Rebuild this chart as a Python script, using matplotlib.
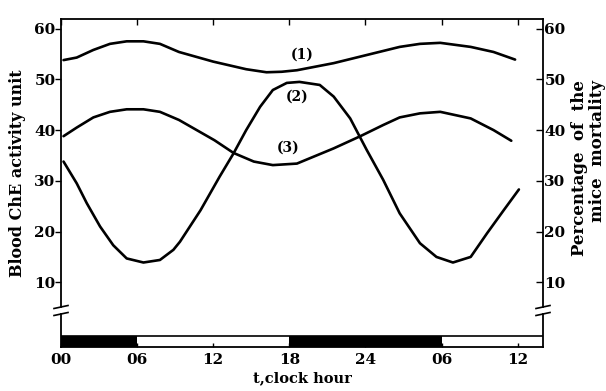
import matplotlib
matplotlib.use("Agg")
import matplotlib.pyplot as plt
from matplotlib.lines import Line2D

plt.rcParams["font.family"] = ["DejaVu Serif"]
plt.rcParams["font.weight"] = "bold"
plt.rcParams["axes.labelweight"] = "bold"

# hours since 00 (two days shown)
HOURS_1 = [0.2, 1.24, 2.55, 3.86, 5.18, 6.5, 7.8, 9.3, 12.0, 14.6, 16.2, 17.4,
           18.6, 21.5, 24.1, 26.7, 28.3, 29.9, 32.3, 34.1, 35.8]
CURVE_1 = [53.8, 54.3, 55.8, 57.0, 57.5, 57.5, 57.0, 55.4, 53.5, 52.0, 51.4, 51.5,
           51.8, 53.2, 54.8, 56.4, 57.0, 57.2, 56.4, 55.4, 53.9]

HOURS_2 = [0.2, 1.24, 2.03, 3.08, 4.12, 5.18, 6.5, 7.8, 8.86, 9.38, 11.0, 12.5,
           13.6, 14.6, 15.7, 16.7, 17.8, 18.8, 20.4, 21.5, 22.8, 24.1, 25.4, 26.7,
           28.3, 29.6, 30.9, 32.3, 33.6, 34.9, 36.1]
CURVE_2 = [33.8, 29.5, 25.6, 21.0, 17.3, 14.7, 13.9, 14.4, 16.4, 18.0, 24.2, 30.8,
           35.4, 40.0, 44.6, 47.9, 49.3, 49.5, 48.9, 46.6, 42.3, 36.1, 30.2, 23.6,
           17.7, 15.0, 13.9, 15.0, 19.7, 24.2, 28.3]

HOURS_3 = [0.2, 1.24, 2.55, 3.86, 5.18, 6.5, 7.8, 9.3, 12.1, 13.6, 15.2, 16.7,
           18.6, 21.5, 23.6, 25.4, 26.7, 28.3, 29.9, 32.3, 34.1, 35.5]
CURVE_3 = [38.8, 40.5, 42.5, 43.6, 44.1, 44.1, 43.6, 42.0, 38.0, 35.5, 33.8, 33.1,
           33.4, 36.4, 38.8, 41.0, 42.5, 43.3, 43.6, 42.3, 40.0, 37.9]

CURVE_LABELS = ["(1)", "(2)", "(3)"]
LABEL_POS = [(19.0, 54.8), (18.6, 46.5), (17.9, 36.5)]

X_TICKS = [0, 6, 12, 18, 24, 30, 36]
X_TICKLABELS = ["00", "06", "12", "18", "24", "06", "12"]
Y_TICKS = [10, 20, 30, 40, 50, 60]
# dark periods of the light/dark bar (start, length) in hours
DARK = [(0, 6), (18, 12)]

W, H = 606, 391
fig = plt.figure(figsize=(W / 100, H / 100), dpi=100)


def frac(left, top, right, bottom):
    return [left / W, 1 - bottom / H, (right - left) / W, (bottom - top) / H]


ax = fig.add_axes(frac(61, 19, 543, 307))
ax.set_xlim(0, 38)
ax.set_ylim(5.13, 61.9)
for hx, cy in ((HOURS_1, CURVE_1), (HOURS_2, CURVE_2), (HOURS_3, CURVE_3)):
    ax.plot(hx, cy, color="black", lw=1.9, solid_capstyle="round",
            solid_joinstyle="round")
for txt, (x, y) in zip(CURVE_LABELS, LABEL_POS):
    ax.text(x, y, txt, ha="center", va="center", fontsize=10)

ax.spines["bottom"].set_visible(False)
for s in ("left", "right", "top"):
    ax.spines[s].set_linewidth(1.3)
ax.set_xticks(X_TICKS)
ax.tick_params(axis="x", which="both", bottom=False, top=True, labelbottom=False,
               direction="in", length=4, width=1.0)
ax.set_yticks(Y_TICKS)
ax.tick_params(axis="y", which="both", left=True, right=False, direction="out",
               length=4, width=1.0, labelsize=11, pad=0)
ax.set_ylabel("Blood ChE activity unit", fontsize=11.5, va="center")
ax.yaxis.set_label_coords(-0.091, 0.465)

axr = ax.twinx()
axr.set_ylim(ax.get_ylim())
axr.set_yticks(Y_TICKS)
axr.tick_params(axis="y", direction="in", length=5, width=1.0, labelsize=11, pad=1)
for s in ("left", "right", "top", "bottom"):
    axr.spines[s].set_visible(False)

# light/dark bar below the broken axis
axb = fig.add_axes(frac(61, 314, 543, 347))
axb.set_xlim(0, 38)
axb.set_ylim(0, 3)
axb.broken_barh(DARK, (0, 1), facecolors="black")
axb.plot([0, 38], [1, 1], color="black", lw=1.2)
axb.spines["top"].set_visible(False)
for s in ("left", "right", "bottom"):
    axb.spines[s].set_linewidth(1.3)
axb.set_yticks([])
axb.set_xticks(X_TICKS)
axb.set_xticklabels(X_TICKLABELS)
axb.tick_params(axis="x", direction="in", length=3, width=1.0, labelsize=11, pad=4)
axb.set_xlabel("t,clock hour", fontsize=10.5, labelpad=3)

# break marks on both vertical axes
for xp in (61, 543):
    for yp in (307, 314):
        fig.add_artist(Line2D([(xp - 7) / W, (xp + 7) / W],
                              [1 - (yp + 1.5) / H, 1 - (yp - 1.5) / H],
                              color="black", lw=1.2))

fig.text(580 / W, 1 - 80 / H, "Percentage  of  the", rotation=90,
         ha="center", va="top", fontsize=12)
fig.text(597 / W, 1 - 80 / H, "mice  mortality", rotation=90,
         ha="center", va="top", fontsize=12)

fig.savefig("out.png", dpi=100)
